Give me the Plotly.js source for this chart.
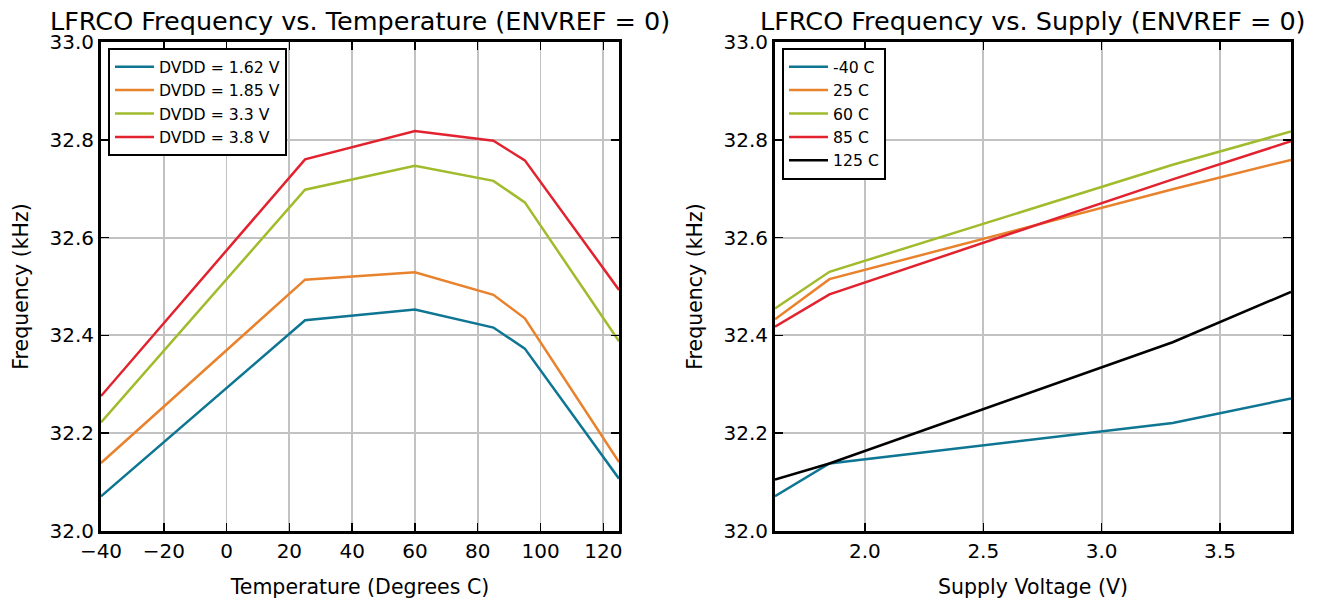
<!DOCTYPE html>
<html>
<head>
<meta charset="utf-8">
<script src="https://cdn.plot.ly/plotly-3.0.1.min.js"></script>
<style>html,body{margin:0;padding:0;background:#fff;}#chart{width:1319px;height:606px;}</style>
</head>
<body>
<div id="chart"></div>
<script>
// ---- Data ----
var temperatures = [-40, 25, 60, 85, 95, 125];
var dvdd162 = [32.071, 32.431, 32.453, 32.416, 32.373, 32.107];
var dvdd185 = [32.139, 32.514, 32.529, 32.483, 32.435, 32.141];
var dvdd330 = [32.222, 32.698, 32.747, 32.716, 32.672, 32.388];
var dvdd380 = [32.276, 32.760, 32.818, 32.798, 32.758, 32.493];

var supplies = [1.62, 1.85, 3.3, 3.8];
var tM40 = [32.071, 32.138, 32.221, 32.271];
var t25 = [32.433, 32.515, 32.699, 32.759];
var t60 = [32.455, 32.530, 32.749, 32.817];
var t85 = [32.418, 32.484, 32.719, 32.797];
var t125 = [32.105, 32.138, 32.386, 32.489];

var tempNames = ['DVDD = 1.62 V', 'DVDD = 1.85 V', 'DVDD = 3.3 V', 'DVDD = 3.8 V'];
var supplyNames = ['-40 C', '25 C', '60 C', '85 C', '125 C'];
var tempTicks = [-40, -20, 0, 20, 40, 60, 80, 100, 120];

var C_BLUE = '#0e7592', C_ORANGE = '#e8822c', C_GREEN = '#a0bb2c', C_RED = '#e2232f', C_BLACK = '#000000';
var FONT = 'DejaVu Sans, sans-serif';

var traces = [];
[dvdd162, dvdd185, dvdd330, dvdd380].forEach(function (ys, i) {
  traces.push({x: temperatures, y: ys, name: tempNames[i], type: 'scatter', mode: 'lines',
    xaxis: 'x', yaxis: 'y', legend: 'legend',
    line: {color: [C_BLUE, C_ORANGE, C_GREEN, C_RED][i], width: 2.5}});
});
[tM40, t25, t60, t85, t125].forEach(function (ys, i) {
  traces.push({x: supplies, y: ys, name: supplyNames[i], type: 'scatter', mode: 'lines',
    xaxis: 'x2', yaxis: 'y2', legend: 'legend2',
    line: {color: [C_BLUE, C_ORANGE, C_GREEN, C_RED, C_BLACK][i], width: 2.5}});
});

function axisBase() {
  return {
    showline: true, linecolor: '#000', linewidth: 3, mirror: 'ticks',
    ticks: 'inside', ticklen: 8, tickwidth: 1.5, tickcolor: '#000',
    showgrid: true, gridcolor: '#c2c2c2', gridwidth: 1.8,
    zeroline: false, tickfont: {family: FONT, size: 20, color: '#000'},
    fixedrange: true
  };
}
var titleFont = {family: FONT, size: 20.5, color: '#000'};

var xa = Object.assign(axisBase(), {domain: [101/1319, 619/1319], range: [-40, 125],
  tickmode: 'array', tickvals: tempTicks,
  title: {text: 'Temperature (Degrees C)', font: titleFont, standoff: 18}, anchor: 'y'});
var ya = Object.assign(axisBase(), {domain: [1 - 531/606, 1 - 42/606], range: [32, 33],
  dtick: 0.2, tick0: 32, tickformat: '.1f',
  title: {text: 'Frequency (kHz)', font: titleFont, standoff: 16}, anchor: 'x'});
var xa2 = Object.assign(axisBase(), {domain: [775/1319, 1291/1319], range: [1.62, 3.8],
  dtick: 0.5, tick0: 0, tickformat: '.1f',
  title: {text: 'Supply Voltage (V)', font: titleFont, standoff: 18}, anchor: 'y2'});
var ya2 = Object.assign(axisBase(), {domain: [1 - 531/606, 1 - 42/606], range: [32, 33],
  dtick: 0.2, tick0: 32, tickformat: '.1f',
  title: {text: 'Frequency (kHz)', font: titleFont, standoff: 16}, anchor: 'x2'});

var legendBase = {yanchor: 'top', xanchor: 'left', y: 1 - 48/606,
  bgcolor: '#fff', bordercolor: '#000', borderwidth: 2, itemwidth: 39,
  font: {family: FONT, size: 15.7, color: '#000'}};

var layout = {
  width: 1319, height: 606,
  margin: {l: 0, r: 0, t: 0, b: 0},
  paper_bgcolor: '#fff', plot_bgcolor: '#fff',
  font: {family: FONT, color: '#000'},
  xaxis: xa, yaxis: ya, xaxis2: xa2, yaxis2: ya2,
  showlegend: true,
  legend: Object.assign({}, legendBase, {x: 108/1319}),
  legend2: Object.assign({}, legendBase, {x: 782/1319}),
  annotations: [
    {text: 'LFRCO Frequency vs. Temperature (ENVREF = 0)', xref: 'x domain', yref: 'y domain',
      x: 0.5, y: 1, xanchor: 'center', yanchor: 'bottom', yshift: 4, showarrow: false,
      font: {family: FONT, size: 25.5, color: '#000'}},
    {text: 'LFRCO Frequency vs. Supply (ENVREF = 0)', xref: 'x2 domain', yref: 'y2 domain',
      x: 0.5, y: 1, xanchor: 'center', yanchor: 'bottom', yshift: 4, showarrow: false,
      font: {family: FONT, size: 25.5, color: '#000'}}
  ]
};

Plotly.newPlot('chart', traces, layout, {staticPlot: true, displayModeBar: false});
</script>
</body>
</html>
